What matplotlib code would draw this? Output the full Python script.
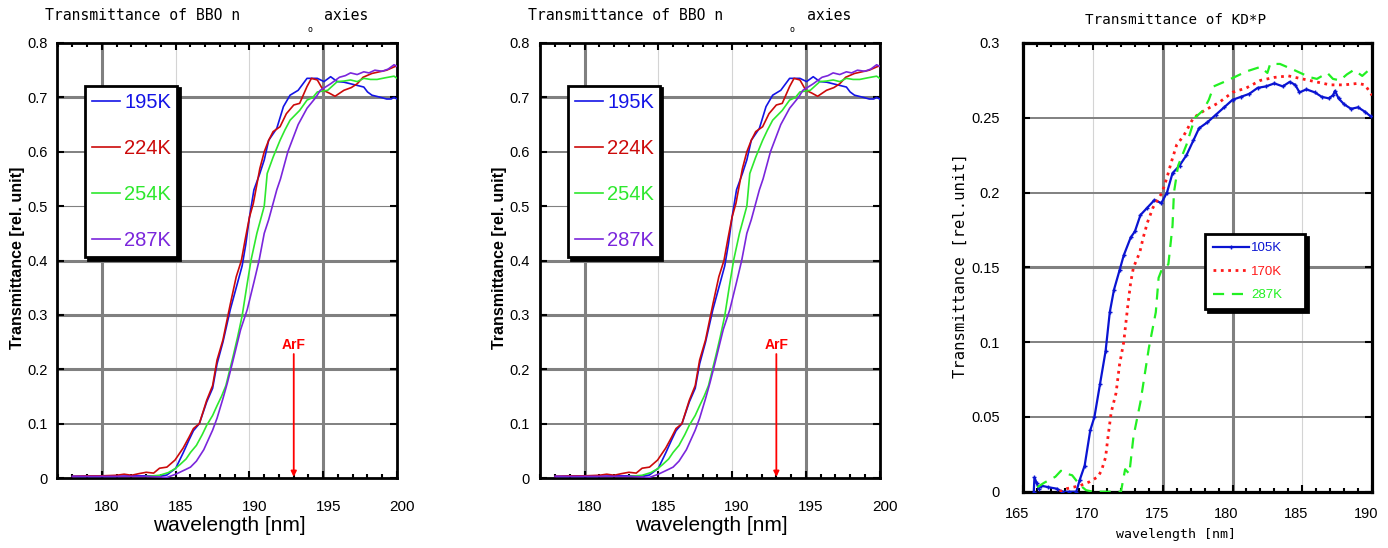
import matplotlib
matplotlib.use("Agg")
import matplotlib.pyplot as plt
import matplotlib.transforms as mtransforms

# ---------------------------------------------------------------------------
# data
# ---------------------------------------------------------------------------
bbo_labels = ["195K", "224K", "254K", "287K"]

bbo_195_x = [178.0, 179.0, 180.0, 181.0, 182.0, 183.0, 184.0, 184.4, 185.0, 185.5,
             185.9, 186.2, 186.6, 187.1, 187.5, 187.8, 188.2, 188.7, 189.1, 189.5,
             189.75, 190.0, 190.3, 190.7, 191.0, 191.3, 191.85, 192.3, 192.75, 193.3,
             193.9, 194.6, 195.05, 195.5, 195.95, 196.4, 196.85, 197.3, 197.75, 198.0,
             198.3, 198.9, 199.3, 199.6, 199.8, 200.0]
bbo_195_y = [0.003, 0.003, 0.003, 0.003, 0.004, 0.004, 0.004, 0.0055, 0.018, 0.046,
             0.07, 0.087, 0.10, 0.14, 0.165, 0.21, 0.25, 0.31, 0.35, 0.39,
             0.43, 0.48, 0.53, 0.56, 0.585, 0.621, 0.643, 0.683, 0.704, 0.713,
             0.735, 0.735, 0.729, 0.738, 0.729, 0.728, 0.725, 0.722, 0.719, 0.71,
             0.704, 0.700, 0.697, 0.697, 0.70, 0.697]

bbo_224_x = [178.0, 179.0, 180.0, 181.0, 181.5, 182.0, 182.5, 183.0, 183.5, 183.9,
             184.4, 184.95, 185.5, 185.9, 186.2, 186.6, 187.1, 187.5, 187.8, 188.2,
             188.7, 189.1, 189.45, 189.7, 190.0, 190.26, 190.7, 191.0, 191.3, 191.6,
             192.07, 192.5, 193.0, 193.4, 193.9, 194.2, 194.6, 195.0, 195.4, 195.8,
             196.4, 196.9, 197.3, 197.7, 198.3, 198.8, 199.3, 199.8, 200.0]
bbo_224_y = [0.003, 0.004, 0.004, 0.005, 0.007, 0.005, 0.008, 0.0105, 0.009, 0.018,
             0.02, 0.033, 0.055, 0.075, 0.091, 0.10, 0.143, 0.17, 0.217, 0.254,
             0.32, 0.37, 0.40, 0.4375, 0.48, 0.505, 0.569, 0.60, 0.621, 0.637,
             0.646, 0.67, 0.686, 0.689, 0.72, 0.735, 0.732, 0.713, 0.708, 0.702,
             0.713, 0.718, 0.725, 0.737, 0.744, 0.747, 0.75, 0.756, 0.758]

bbo_254_x = [183.0, 183.9, 184.5, 184.95, 185.3, 185.7, 186.0, 186.4, 186.8, 187.1,
             187.5, 187.8, 188.1, 188.4, 188.9, 189.2, 189.5, 189.8, 190.1, 190.5,
             191.0, 191.2, 191.6, 192.07, 192.4, 192.75, 193.4, 193.9, 194.3, 194.6,
             195.3, 195.95, 196.4, 196.85, 197.3, 197.75, 198.2, 198.65, 199.2, 199.8,
             200.0]
bbo_254_y = [0.003, 0.005, 0.01, 0.017, 0.025, 0.035, 0.047, 0.06, 0.08, 0.097,
             0.115, 0.133, 0.15, 0.17, 0.225, 0.26, 0.298, 0.35, 0.40, 0.45,
             0.50, 0.56, 0.59, 0.621, 0.64, 0.658, 0.676, 0.695, 0.70, 0.71,
             0.713, 0.729, 0.73, 0.732, 0.729, 0.735, 0.733, 0.733, 0.736, 0.739,
             0.735]

bbo_287_x = [178.0, 179.0, 180.0, 181.0, 182.0, 183.0, 184.0, 184.4, 185.0, 185.7,
             186.0, 186.4, 186.9, 187.2, 187.5, 187.8, 188.2, 188.5, 188.8, 189.1,
             189.4, 189.85, 190.3, 190.65, 191.0, 191.3, 191.55, 191.85, 192.1, 192.35,
             192.6, 192.95, 193.3, 193.6, 193.9, 194.2, 194.5, 194.8, 195.5, 196.1,
             196.5, 196.85, 197.3, 197.75, 198.1, 198.5, 199.0, 199.4, 199.8, 200.0]
bbo_287_y = [0.003, 0.003, 0.003, 0.003, 0.003, 0.003, 0.002, 0.001, 0.007, 0.016,
             0.02, 0.031, 0.052, 0.07, 0.088, 0.11, 0.146, 0.175, 0.207, 0.24,
             0.273, 0.31, 0.36, 0.40, 0.45, 0.475, 0.50, 0.53, 0.55, 0.575,
             0.60, 0.625, 0.65, 0.665, 0.68, 0.69, 0.70, 0.713, 0.725, 0.737,
             0.74, 0.745, 0.742, 0.747, 0.745, 0.75, 0.748, 0.752, 0.76, 0.757]

bbo_xticks = [180, 185, 190, 195, 200]
bbo_yticks = [0, 0.1, 0.2, 0.3, 0.4, 0.5, 0.6, 0.7, 0.8]
bbo_yticklabels = ["0", "0.1", "0.2", "0.3", "0.4", "0.5", "0.6", "0.7", "0.8"]
arf_x = 193.0

kdp_labels = ["105K", "170K", "287K"]

kdp_105_x = [165.75, 165.8, 165.95, 166.1, 166.3, 166.8, 167.4, 167.8, 168.3, 168.8,
             169.05, 169.4, 169.8, 170.1, 170.5, 170.9, 171.2, 171.5, 171.9, 172.2,
             172.7, 173.0, 173.4, 173.9, 174.4, 174.9, 175.3, 175.7, 176.2, 176.7,
             177.2, 177.6, 178.2, 178.8, 179.4, 180.0, 180.6, 181.2, 181.8, 182.4,
             183.0, 183.6, 184.1, 184.5, 184.8, 185.3, 185.9, 186.4, 186.9, 187.2,
             187.35, 187.6, 188.0, 188.5, 189.0, 189.5, 189.9]
kdp_105_y = [0.0, 0.0095, 0.006, 0.002, 0.004, 0.003, 0.002, 0.0, 0.0, 0.0,
             0.008, 0.0175, 0.041, 0.05, 0.072, 0.094, 0.12, 0.135, 0.148, 0.158,
             0.17, 0.174, 0.185, 0.19, 0.195, 0.193, 0.2, 0.213, 0.218, 0.225,
             0.235, 0.243, 0.247, 0.252, 0.257, 0.262, 0.264, 0.266, 0.27, 0.271,
             0.273, 0.271, 0.274, 0.272, 0.267, 0.269, 0.267, 0.264, 0.263, 0.265,
             0.268, 0.263, 0.259, 0.256, 0.257, 0.254, 0.251]

kdp_170_x = [167.6, 168.1, 169.05, 169.75, 170.35, 170.6, 170.9, 171.05, 171.3, 171.65,
             171.9, 172.2, 172.5, 172.7, 172.9, 173.35, 173.6, 173.9, 174.3, 174.95,
             175.3, 175.6, 176.0, 176.5, 177.2, 178.0, 179.0, 180.0, 181.0, 182.0,
             183.0, 184.0, 185.0, 186.0, 187.0, 188.0, 189.0, 189.5, 190.0]
kdp_170_y = [0.0, 0.002, 0.004, 0.0066, 0.01, 0.014, 0.023, 0.035, 0.053, 0.066,
             0.085, 0.1, 0.125, 0.14, 0.15, 0.16, 0.17, 0.18, 0.19, 0.2,
             0.21, 0.22, 0.232, 0.238, 0.25, 0.255, 0.26, 0.267, 0.27, 0.275,
             0.277, 0.278, 0.276, 0.274, 0.272, 0.272, 0.273, 0.272, 0.265]

kdp_287_x = [166.0, 166.5, 166.9, 167.3, 167.7, 168.1, 168.5, 169.05, 169.5, 170.0,
             171.0, 172.0, 172.1, 172.3, 172.6, 172.9, 173.4, 174.0, 174.5, 174.7,
             174.95, 175.4, 175.7, 175.8, 176.1, 176.7, 177.3, 177.9, 178.3, 178.65,
             179.4, 180.1, 181.0, 182.0, 182.5, 182.7, 183.4, 184.4, 185.1, 185.6,
             186.05, 186.8, 187.2, 187.7, 188.2, 188.7, 189.3, 189.9]
kdp_287_y = [0.003, 0.006, 0.008, 0.01, 0.014, 0.012, 0.011, 0.0045, 0.001, 0.0,
             0.0, 0.0, 0.005, 0.015, 0.012, 0.037, 0.06, 0.096, 0.12, 0.143,
             0.149, 0.152, 0.178, 0.2, 0.218, 0.232, 0.25, 0.255, 0.262, 0.271,
             0.274, 0.277, 0.281, 0.284, 0.28, 0.286, 0.286, 0.282, 0.279, 0.277,
             0.276, 0.28, 0.276, 0.275, 0.279, 0.282, 0.278, 0.283]

kdp_xticks = [165, 170, 175, 180, 185, 190]
kdp_yticks = [0, 0.05, 0.1, 0.15, 0.2, 0.25, 0.3]
kdp_yticklabels = ["0", "0.05", "0.1", "0.15", "0.2", "0.25", "0.3"]

# ---------------------------------------------------------------------------
W, H = 1388, 548
fig = plt.figure(figsize=(W / 100, H / 100), dpi=100)

SANS = ["Liberation Sans", "DejaVu Sans"]
MONO = ["DejaVu Sans Mono"]
GRID = "#808080"
LIGHT = "#d4d4d4"


def px_axes(left, top, right, bottom):
    return fig.add_axes([left / W, 1 - bottom / H, (right - left) / W, (bottom - top) / H])


def shift_labels(ax, dx_px):
    off = mtransforms.ScaledTranslation(dx_px / 100, 0, fig.dpi_scale_trans)
    for lbl in ax.get_xticklabels():
        lbl.set_transform(lbl.get_transform() + off)


def grid_lines(ax, vlines, hlines):
    styles = {"thick": (GRID, 2.2), "med": (GRID, 1.4), "thin": (GRID, 0.8),
              "light": (LIGHT, 0.8)}
    for x, s in vlines:
        c, lw = styles[s]
        ax.axvline(x, color=c, lw=lw, zorder=0.5)
    for y, s in hlines:
        c, lw = styles[s]
        ax.axhline(y, color=c, lw=lw, zorder=0.5)


def bbo_panel(dx):
    ax = px_axes(57 + dx, 43, 397 + dx, 478)
    series = [(bbo_195_x, bbo_195_y, "#1414e6"),
              (bbo_224_x, bbo_224_y, "#cc0a0a"),
              (bbo_254_x, bbo_254_y, "#2ee82e"),
              (bbo_287_x, bbo_287_y, "#7a26dc")]
    handles = []
    for (xs, ys, c), lab in zip(series, bbo_labels):
        h, = ax.plot(xs, ys, color=c, lw=1.2, label=lab, zorder=3)
        handles.append(h)
    ax.set_xlim(176.95, 200)
    ax.set_ylim(0, 0.8)
    grid_lines(ax,
               [(180, "thick"), (185, "light"), (190, "light"), (195, "thick")],
               [(0.1, "med"), (0.2, "thick"), (0.3, "thick"), (0.4, "thick"),
                (0.5, "thin"), (0.6, "med"), (0.7, "thick")])
    ax.set_xticks(bbo_xticks)
    ax.set_xticks(range(177, 201), minor=True)
    ax.set_yticks(bbo_yticks)
    ax.set_yticklabels(bbo_yticklabels)
    ax.tick_params(which="both", direction="in", top=True, right=True, width=1.5,
                   colors="black")
    ax.tick_params(which="major", length=5)
    ax.tick_params(which="minor", length=3)
    ax.tick_params(axis="x", pad=16, labelsize=11)
    ax.tick_params(axis="y", pad=7, labelsize=10.5)
    for lbl in ax.get_xticklabels() + ax.get_yticklabels():
        lbl.set_family(SANS)
    shift_labels(ax, 5)
    for sp in ax.spines.values():
        sp.set_linewidth(2)
    ax.set_xlabel("wavelength [nm]", fontsize=15, family=SANS)
    ax.xaxis.set_label_coords(0.506, -0.088)
    ax.set_ylabel("Transmittance [rel. unit]", fontsize=11.5, fontweight="bold",
                  family=SANS)
    ax.yaxis.set_label_coords(-0.095, 0.506)

    ax.annotate("", xy=(arf_x, 0.002), xytext=(arf_x, 0.228),
                arrowprops=dict(arrowstyle="-|>", color="red", lw=1.3,
                                mutation_scale=8, shrinkA=0, shrinkB=0), zorder=4)
    ax.text(arf_x, 0.232, "ArF", color="red", fontsize=10, fontweight="bold",
            ha="center", va="bottom", family=SANS)

    leg = ax.legend(handles=handles, loc="upper left",
                    bbox_to_anchor=(0.083, 0.902, 0.27, 0.0), mode="expand",
                    labelcolor="linecolor", labelspacing=1.35,
                    handlelength=1.4, handletextpad=0.2, borderpad=0.35,
                    borderaxespad=0, fancybox=False, framealpha=1,
                    edgecolor="black", shadow={"color": "black", "alpha": 1},
                    prop={"family": SANS, "size": 14.5})
    leg.get_frame().set_linewidth(2)
    leg.set_zorder(5)

    fig.text((45 + dx) / W, 1 - 16 / H, "Transmittance of BBO n", fontsize=10.6,
             family=MONO, va="center", ha="left")
    fig.text((307 + dx) / W, 1 - 29 / H, "o", fontsize=6, family=MONO,
             va="center", ha="left")
    fig.text((324 + dx) / W, 1 - 16 / H, "axies", fontsize=10.6, family=MONO,
             va="center", ha="left")


bbo_panel(0)
bbo_panel(482.6)

# ---------------------------------------------------------------------------
ax = px_axes(1023.3, 43, 1372, 491.7)
h1, = ax.plot(kdp_105_x, kdp_105_y, color="#0a14d2", lw=1.6, marker="+", ms=3,
              mew=1.0, label=kdp_labels[0], zorder=3)
h2, = ax.plot(kdp_170_x, kdp_170_y, color="#ff1a1a", lw=2.0, ls=":",
              label=kdp_labels[1], zorder=3)
h3, = ax.plot(kdp_287_x, kdp_287_y, color="#22f022", lw=1.6, ls=(0, (5, 3.5)),
              label=kdp_labels[2], zorder=3)
ax.set_xlim(165, 190)
ax.set_ylim(0, 0.3)
grid_lines(ax,
           [(170, "light"), (175, "thick"), (180, "thick"), (185, "light")],
           [(0.05, "med"), (0.1, "med"), (0.15, "thick"), (0.2, "med"), (0.25, "med")])
ax.set_xticks(kdp_xticks)
ax.set_xticks(range(165, 191), minor=True)
ax.set_yticks(kdp_yticks)
ax.set_yticklabels(kdp_yticklabels)
ax.tick_params(which="both", direction="in", top=True, right=True, width=1.5)
ax.tick_params(which="major", length=5)
ax.tick_params(which="minor", length=3)
ax.tick_params(axis="x", pad=11, labelsize=10.5)
ax.tick_params(axis="y", pad=17, labelsize=10.5)
for lbl in ax.get_xticklabels() + ax.get_yticklabels():
    lbl.set_family(SANS)
shift_labels(ax, -6)
for sp in ax.spines.values():
    sp.set_linewidth(2.3)
ax.set_xlabel("wavelength [nm]", fontsize=9.5, family=MONO)
ax.xaxis.set_label_coords(0.437, -0.08)
ax.set_ylabel("Transmittance [rel.unit]", fontsize=11.2, family=MONO)
ax.yaxis.set_label_coords(-0.158, 0.505)
leg = ax.legend(handles=[h1, h2, h3], loc="upper left",
                bbox_to_anchor=(0.521, 0.574, 0.287, 0.0), mode="expand",
                labelcolor="linecolor", labelspacing=0.85, handlelength=2.7,
                handletextpad=0.2, borderpad=0.6, borderaxespad=0,
                fancybox=False, framealpha=1, edgecolor="black",
                shadow={"color": "black", "alpha": 1},
                prop={"family": SANS, "size": 9.5})
leg.get_frame().set_linewidth(2)
leg.set_zorder(5)
fig.text(1085 / W, 1 - 20 / H, "Transmittance of KD*P", fontsize=10.3, family=MONO,
         va="center", ha="left")

fig.savefig("out.png", dpi=100)
